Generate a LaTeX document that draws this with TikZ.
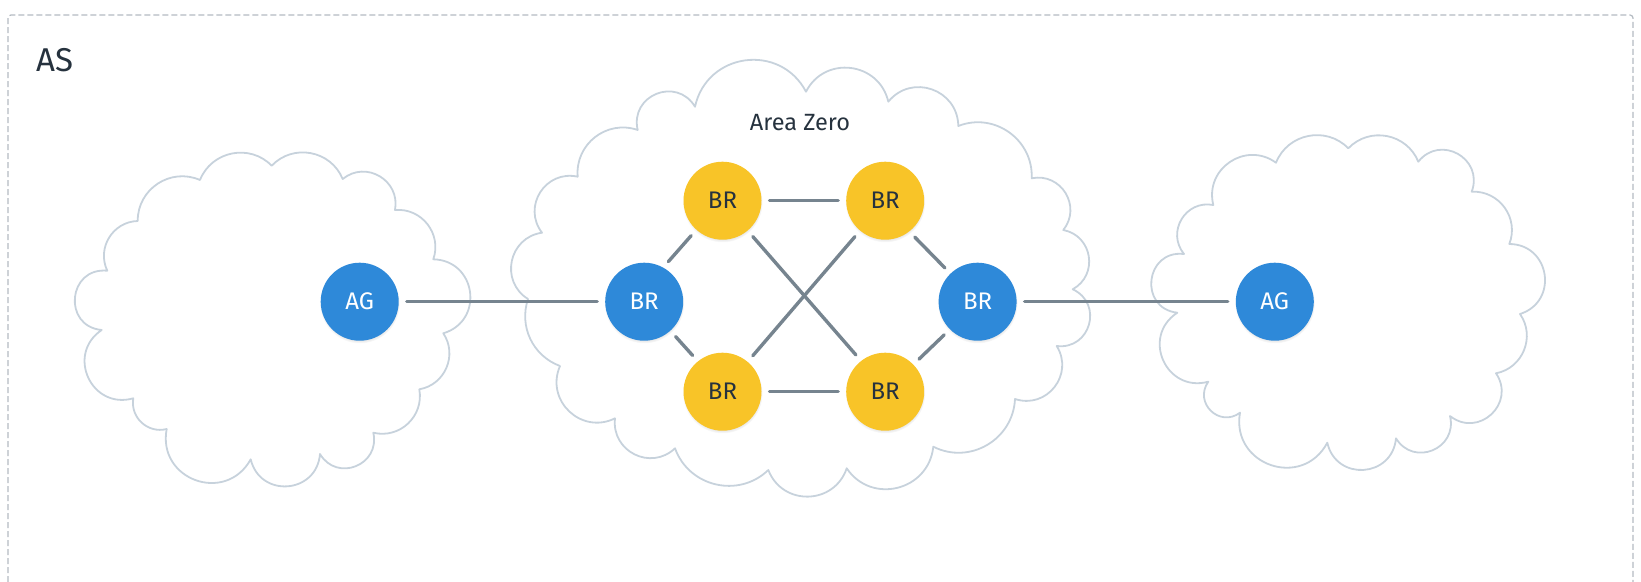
\documentclass[tikz,border=0pt]{standalone}
\usepackage{fontspec}
\setmainfont{Fira Sans}
\usetikzlibrary{shadows}

\definecolor{nodeblue}{HTML}{2E89D9}
\definecolor{nodeyellow}{HTML}{F8C428}
\definecolor{ink}{HTML}{26323E}
\definecolor{wire}{HTML}{76848F}
\definecolor{cloudline}{HTML}{C7D2DC}
\definecolor{framegray}{HTML}{B3BAC1}

\begin{document}
\begin{tikzpicture}[x=1pt,y=-1pt,
  router/.style={circle, minimum size=78pt, inner sep=0pt, outer sep=0pt,
    font=\fontsize{24}{28}\selectfont,
    circular drop shadow={shadow xshift=0pt, shadow yshift=-1.5pt, shadow scale=1.03, opacity=0.35}},
  agg/.style={router, fill=nodeblue, text=white},
  border/.style={router, fill=nodeblue, text=white},
  backbone/.style={router, fill=nodeyellow, text=ink},
  link/.style={draw=wire, line width=3.4pt, line cap=round, shorten >=8pt, shorten <=8pt},
  cloudedge/.style={draw=cloudline, line width=1.8pt, line join=round},
  frameline/.style={draw=framegray, line width=1.2pt, dash pattern=on 6pt off 3pt, rounded corners=3pt},
  puffT/.style={bend left=44, looseness=1.0},
  puffS/.style={bend left=57, looseness=1.1},
  puffM/.style={bend left=70, looseness=1.27},
  puffL/.style={bend left=81, looseness=1.48},
  puffH/.style={bend left=90, looseness=1.7},
  title/.style={text=ink, inner sep=0pt},
]
\useasboundingbox (0,0) rectangle (1641,581);

% autonomous system frame (open at the bottom)
\draw[frameline] (8,600) -- (8,15) -- (1633,15) -- (1633,600);
\node[title, font=\fontsize{33}{39}\selectfont, anchor=base west] (as) at (36,71.7) {AS};

% left area cloud
\draw[cloudedge] (200,180) to[puffS] (271.7,165.7) to[puffS] (342.7,179)
  to[puffM] (395,210) to[puffS] (433.3,259.3) to[puffL] (443.3,333.3)
  to[puffS] (419.3,389.3) to[puffS] (373.3,432.7) to[puffL] (320,454)
  to[puffL] (250.7,459.3) to[puffL] (166.7,429) to[puffS] (133.3,398.3)
  to[puffL] (101.7,330) to[puffH] (107.3,270.7) to[puffS] (137.7,221)
  to[puffS] (200,180) -- cycle;

% backbone cloud
\draw[cloudedge] (695,106.7) to[puffM] (806,91.7) to[puffM] (888.3,101.7)
  to[puffM] (958.3,126) to[puffS] (1031.7,178.3) to[puffM] (1063.3,230)
  to[puffM] (1072.7,289.3) to[puffL] (1056.7,346) to[puffM] (1015,399)
  to[puffS] (933.3,446.7) to[puffM] (846.7,468.3) to[puffM] (768.3,470)
  to[puffS] (675,448.3) to[puffM] (615,418.3) to[puffM] (560,366)
  to[puffT] (528,299) to[puffM] (542,232.7) to[puffM] (577.7,176.7)
  to[puffS] (637.7,130) to[puffL] (695,106.7) -- cycle;
\node[title, font=\fontsize{23.5}{28}\selectfont, anchor=base] (area) at (800,130) {Area Zero};

% right area cloud
\draw[cloudedge] (1276,162.7) to[puffS] (1348.3,148.3) to[puffS] (1418.3,161.7)
  to[puffL] (1471.7,191.7) to[puffS] (1509.3,244) to[puffL] (1520,314)
  to[puffS] (1496,373.3) to[puffL] (1450,416) to[puffL] (1396,438.3)
  to[puffL] (1327.3,442.7) to[puffL] (1240,412.7) to[puffL] (1208.3,381.7)
  to[puffL] (1177.3,312.7) to[puffH] (1184,254) to[puffM] (1213.3,205)
  to[puffM] (1276,162.7) -- cycle;

% routers
\node[agg] (agl) at (359.7,301.7) {AG};
\node[border] (brl) at (644.2,301.7) {BR};
\node[backbone] (bb1) at (722.5,200.7) {BR};
\node[backbone] (bb2) at (885.2,200.7) {BR};
\node[backbone] (bb3) at (722.5,391.7) {BR};
\node[backbone] (bb4) at (885.2,391.7) {BR};
\node[border] (brr) at (977.6,301.7) {BR};
\node[agg] (agr) at (1274.8,301.7) {AG};

% links
\draw[link] (agl.east) -- (brl.west);
\draw[link] (brr.east) -- (agr.west);
\draw[link] (bb1.east) -- (bb2.west);
\draw[link] (bb3.east) -- (bb4.west);
\draw[link] (brl.61) -- (bb1.228);
\draw[link] (brl.-48) -- (bb3.129);
\draw[link] (bb1.-50) -- (bb4.128);
\draw[link] (bb2.230) -- (bb3.50);
\draw[link] (bb2.-52) -- (brr.134);
\draw[link] (brr.225) -- (bb4.44);
\end{tikzpicture}
\end{document}
